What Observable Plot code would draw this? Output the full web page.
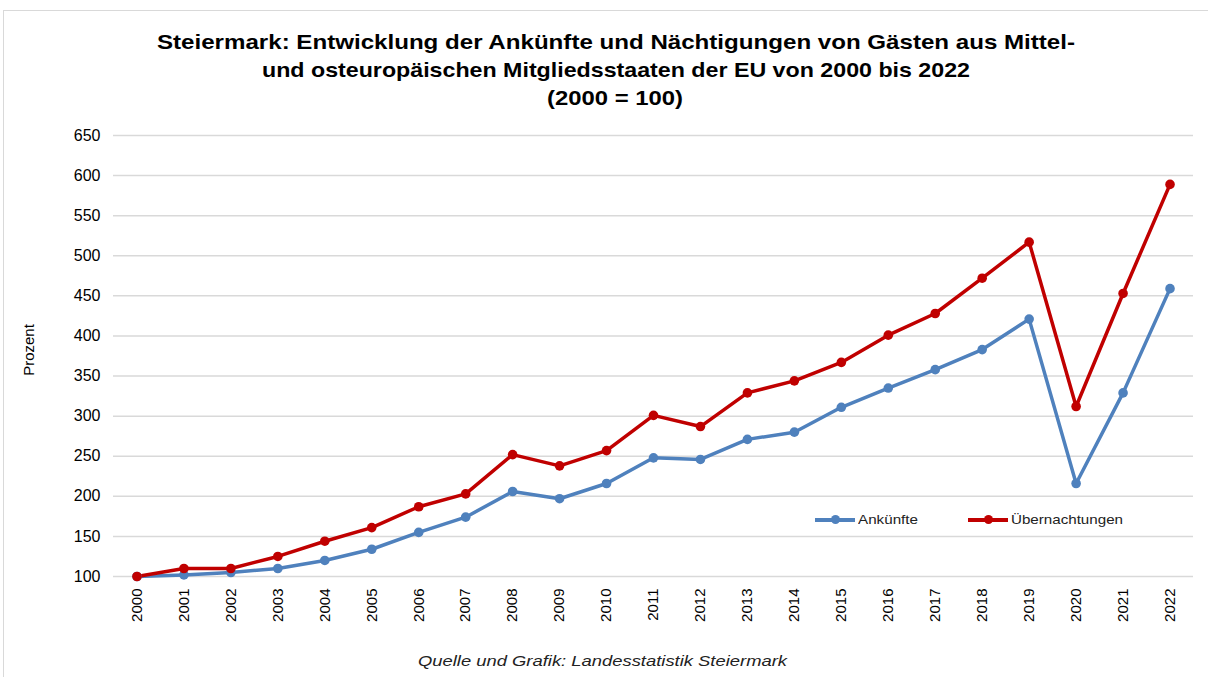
<!DOCTYPE html>
<html>
<head>
<meta charset="utf-8">
<script src="https://cdn.jsdelivr.net/npm/d3@7"></script>
<script src="https://cdn.jsdelivr.net/npm/@observablehq/plot@0.6"></script>
<style>
  html, body { margin: 0; padding: 0; background: #fff; }
  #wrap { position: relative; width: 1208px; height: 677px; overflow: hidden; font-family: "Liberation Sans", Arial, sans-serif; }
  #frame { position: absolute; left: 3px; top: 10px; width: 1220px; height: 700px; border: 1px solid #d9d9d9; box-sizing: border-box; }
  .tl { position: absolute; white-space: nowrap; font-weight: bold; font-size: 21px; color: #000; transform-origin: left center; }
  #chart { position: absolute; left: 0; top: 0; }
  #caption { position: absolute; white-space: nowrap; font-style: italic; font-size: 15px; color: #222; transform-origin: left center; }
  #ylabel { position: absolute; left: 28px; top: 350px; transform: translate(-50%, -50%) rotate(-90deg); font-size: 15px; color: #000; white-space: nowrap; }
  .leg { position: absolute; top: 512px; font-size: 13px; color: #222; display: flex; align-items: center; }
  .leg .sw { position: relative; width: 40px; height: 4px; margin-right: 3px; }
  .leg .sw i { position: absolute; left: 16px; top: -3px; width: 9px; height: 9px; border-radius: 50%; }
  .leg .lt { display: inline-block; transform-origin: left center; white-space: nowrap; }
</style>
</head>
<body>
<div id="wrap">
  <div id="frame"></div>
  <div id="chart"></div>
  <div id="titles"></div>
  <div id="ylabel">Prozent</div>
  <div id="legend"></div>
  <div id="caption">Quelle und Grafik: Landesstatistik Steiermark</div>
</div>
<script>
const titleLines = [
  "Steiermark: Entwicklung der Ankünfte und Nächtigungen von Gästen aus Mittel-",
  "und osteuropäischen Mitgliedsstaaten der EU von 2000 bis 2022",
  "(2000 = 100)"
];
const years = ["2000","2001","2002","2003","2004","2005","2006","2007","2008","2009","2010","2011","2012","2013","2014","2015","2016","2017","2018","2019","2020","2021","2022"];
const ankuenfte = [100,102,105,110,120,134,155,174,206,197,216,248,246,271,280,311,335,358,383,421,216,329,459];
const uebernachtungen = [100,110,110,125,144,161,187,203,252,238,257,301,287,329,344,367,401,428,472,517,312,453,589];
const seriesNames = ["Ankünfte", "Übernachtungen"];
const seriesColors = ["#4f81bd", "#c00000"];
const yTicks = [100,150,200,250,300,350,400,450,500,550,600,650];

const rows = [];
years.forEach((y, i) => {
  rows.push({year: y, value: ankuenfte[i], series: seriesNames[0]});
  rows.push({year: y, value: uebernachtungen[i], series: seriesNames[1]});
});

const chart = Plot.plot({
  width: 1208,
  height: 677,
  marginTop: 135,
  marginBottom: 101,
  marginLeft: 113,
  marginRight: 15,
  style: { fontFamily: "Liberation Sans, Arial, sans-serif", fontSize: "15px", color: "#000", background: "transparent" },
  x: { type: "point", domain: years, padding: 0.5, round: false, label: null },
  y: { domain: [100, 650], ticks: yTicks, label: null },
  color: { domain: seriesNames, range: seriesColors },
  marks: [
    Plot.ruleY(yTicks, { stroke: "#d9d9d9", strokeWidth: 1.5 }),
    Plot.line(rows, { x: "year", y: "value", z: "series", stroke: "series", strokeWidth: 3.5, strokeLinejoin: "round" }),
    Plot.dot(rows, { x: "year", y: "value", fill: "series", r: 4.8 }),
    Plot.axisX({ tickSize: 0, tickPadding: 12, tickRotate: -90, fontSize: 15, label: null }),
    Plot.axisY({ ticks: yTicks, tickSize: 0, tickPadding: 13, fontSize: 16, label: null })
  ]
});
document.getElementById("chart").appendChild(chart);

// stretch a text element horizontally so that it spans [x0, x1]
function fit(el, x0, x1) {
  const w = el.getBoundingClientRect().width;
  el.style.transform = `scaleX(${(x1 - x0) / w})`;
}

const titleBox = document.getElementById("titles");
const titleSpans = [[157, 1075, 30], [262, 970, 58], [547, 683, 86]];
titleLines.forEach((t, i) => {
  const el = document.createElement("div");
  el.className = "tl";
  el.textContent = t;
  el.style.left = titleSpans[i][0] + "px";
  el.style.top = titleSpans[i][2] + "px";
  titleBox.appendChild(el);
  fit(el, titleSpans[i][0], titleSpans[i][1]);
});

const cap = document.getElementById("caption");
cap.style.left = "418px";
cap.style.top = "652px";
fit(cap, 418, 787);

const legend = document.getElementById("legend");
const legLefts = [815, 968];
const legTextSpans = [[858, 918], [1011, 1123]];
seriesNames.forEach((name, i) => {
  const el = document.createElement("div");
  el.className = "leg";
  el.style.left = legLefts[i] + "px";
  el.innerHTML = `<span class="sw" style="background:${seriesColors[i]}"><i style="background:${seriesColors[i]}"></i></span><span class="lt">${name}</span>`;
  legend.appendChild(el);
  fit(el.querySelector(".lt"), legTextSpans[i][0], legTextSpans[i][1]);
});
</script>
</body>
</html>
